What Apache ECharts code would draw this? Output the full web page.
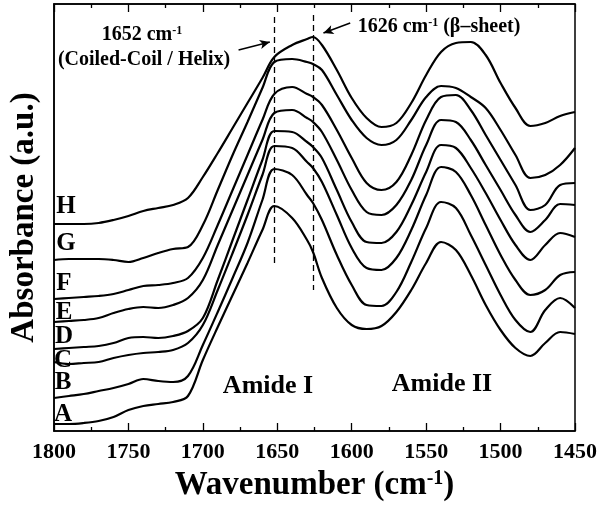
<!DOCTYPE html>
<html>
<head>
<meta charset="utf-8">
<script src="https://cdn.jsdelivr.net/npm/echarts@6/dist/echarts.min.js"></script>
<style>
  html, body { margin: 0; padding: 0; background: #fff; }
  #chart { width: 600px; height: 507px; }
</style>
</head>
<body>
<div id="chart"></div>
<script>
// wavenumber grid (cm-1) shared by all spectra
var wavenumbers = [1800,1790,1780,1770,1760,1750,1740,1730,1720,1710,1700,1690,1680,1670,1660,1652,1640,1630,1626,
                   1620,1610,1600,1590,1580,1570,1560,1550,1540,1530,1520,1510,1500,1490,1480,1470,1460,1450];

// absorbance (arbitrary units, stacked spectra)
var specA = [7,7,8,10,14,21,25,27,29,35,71,104,136,168,201,225,213,191,179,153,123,106,102,105,119,141,168,189,181,156,126,101,83,75,88,99,97];
var specB = [33,35,37,40,43,47,52,50,49,55,86,119,153,188,231,262,256,236,228,211,176,146,126,125,139,169,203,229,223,196,166,136,111,99,121,133,123];
var specC = [69,67,68,69,73,76,78,79,81,88,106,141,178,216,256,285,283,269,263,249,216,183,163,161,173,201,236,264,259,236,206,176,151,136,141,156,159];
var specD = [82,83,84,85,88,93,94,93,95,100,113,151,191,231,271,300,299,289,284,273,241,209,189,188,199,226,259,286,283,263,238,211,186,171,186,198,194];
var specE = [109,110,111,113,118,122,124,123,126,133,151,186,221,256,291,318,321,313,309,299,271,241,219,216,226,251,286,311,309,291,266,241,216,199,211,227,226];
var specF = [132,133,134,135,137,141,145,146,148,153,173,206,241,276,311,337,344,337,334,326,301,273,248,241,249,276,311,334,336,321,296,271,246,221,226,246,248];
var specG = [171,172,172,172,171,169,173,178,182,184,206,241,276,309,343,369,372,369,367,361,336,311,293,286,291,311,334,345,343,334,323,301,276,253,256,266,283];
var specH = [207,207,207,208,211,215,220,223,226,233,254,278,303,328,353,374,386,392,394,386,361,333,313,304,308,328,356,379,388,389,376,348,323,305,308,315,319];

var sampleNames = ['A','B','C','D','E','F','G','H'];
var spectra = [specA, specB, specC, specD, specE, specF, specG, specH];

var fontFam = "'Times New Roman', 'Liberation Serif', serif";

var chart = echarts.init(document.getElementById('chart'));

var series = spectra.map(function (s, i) {
    return {
        name: sampleNames[i],
        type: 'line',
        data: wavenumbers.map(function (w, k) { return [w, s[k]]; }),
        smooth: 0.35,
        showSymbol: false,
        lineStyle: { color: '#000', width: 2.2 },
        silent: true
    };
});

// dashed markers + arrows
series[0].markLine = {
    silent: true,
    symbol: ['none', 'none'],
    label: { show: false },
    lineStyle: { color: '#000', type: [6, 4], width: 1.3 },
    data: [
        [{ coord: [1652, 414] }, { coord: [1652, 166] }],
        [{ coord: [1626, 416] }, { coord: [1626, 141] }]
    ]
};
series[1].markLine = {
    silent: true,
    symbol: ['none', 'arrow'],
    symbolSize: [7, 10],
    label: { show: false },
    lineStyle: { color: '#000', type: 'solid', width: 1.5 },
    data: [
        [{ coord: [1676, 381] }, { coord: [1655, 389] }],
        [{ coord: [1601, 408] }, { coord: [1619, 398] }]
    ]
};

function txt(x, y, text, size, rich) {
    return {
        type: 'text', x: x, y: y, silent: true,
        style: {
            text: text, fill: '#000',
            font: 'bold ' + size + 'px ' + fontFam,
            align: 'center', verticalAlign: 'middle',
            textAlign: 'center', textVerticalAlign: 'middle',
            rich: rich || {}
        }
    };
}
var supRich = {
    n: { fontSize: 20, fontWeight: 'bold', fontFamily: fontFam, verticalAlign: 'bottom' },
    sup: { fontSize: 12, fontWeight: 'bold', fontFamily: fontFam, verticalAlign: 'top' }
};

var labelPos = [[63,415],[63,383],[63,361],[64,337],[64,313],[64,284],[66,244],[66,207]];
var graphics = labelPos.map(function (p, i) { return txt(p[0], p[1], sampleNames[i], 25); });
graphics.push(txt(142, 35, '{n|1652 cm}{sup|-1}', 20, supRich));
graphics.push(txt(144, 60, '(Coiled-Coil / Helix)', 20));
graphics.push(txt(439, 27, '{n|1626 cm}{sup|-1}{n| (β–sheet)}', 20, supRich));
graphics.push(txt(268, 386, 'Amide I', 26));
graphics.push(txt(442, 384, 'Amide II', 26));

var tickFmt = function (v) { return String(v); };

var option = {
    animation: false,
    backgroundColor: '#fff',
    grid: { left: 47, right: 24, top: 4, bottom: 76, show: true, borderColor: '#000', borderWidth: 1.5 },
    xAxis: [{
        type: 'value', inverse: true, min: 1450, max: 1800, interval: 50,
        name: 'Wavenumber (cm{sup|-1})', nameLocation: 'middle', nameGap: 38,
        nameTextStyle: {
            color: '#000', fontSize: 33, fontWeight: 'bold', fontFamily: fontFam,
            rich: { sup: { fontSize: 20, fontWeight: 'bold', fontFamily: fontFam, verticalAlign: 'top' } }
        },
        axisLine: { show: true, lineStyle: { color: '#000', width: 1.5 } },
        axisTick: { show: true, inside: true, length: 8, lineStyle: { color: '#000', width: 1.3 } },
        minorTick: { show: true, splitNumber: 2, length: 4, lineStyle: { color: '#000', width: 1.3 } },
        axisLabel: { color: '#000', fontSize: 22, fontWeight: 'bold', fontFamily: fontFam, margin: 10, formatter: tickFmt },
        splitLine: { show: false }
    }, {
        type: 'value', inverse: true, min: 1450, max: 1800, interval: 50, position: 'top',
        axisLine: { show: true, lineStyle: { color: '#000', width: 1.5 } },
        axisTick: { show: true, inside: true, length: 8, lineStyle: { color: '#000', width: 1.3 } },
        minorTick: { show: true, splitNumber: 2, length: 4, lineStyle: { color: '#000', width: 1.3 } },
        axisLabel: { show: false },
        splitLine: { show: false }
    }],
    yAxis: {
        type: 'value', min: 0, max: 427,
        name: 'Absorbance (a.u.)', nameLocation: 'middle', nameGap: 13, nameRotate: 90,
        nameTextStyle: { color: '#000', fontSize: 33, fontWeight: 'bold', fontFamily: fontFam },
        axisLine: { show: true, lineStyle: { color: '#000', width: 1.5 } },
        axisTick: { show: false },
        axisLabel: { show: false },
        splitLine: { show: false }
    },
    series: series,
    graphic: graphics
};

chart.setOption(option);
</script>
</body>
</html>
